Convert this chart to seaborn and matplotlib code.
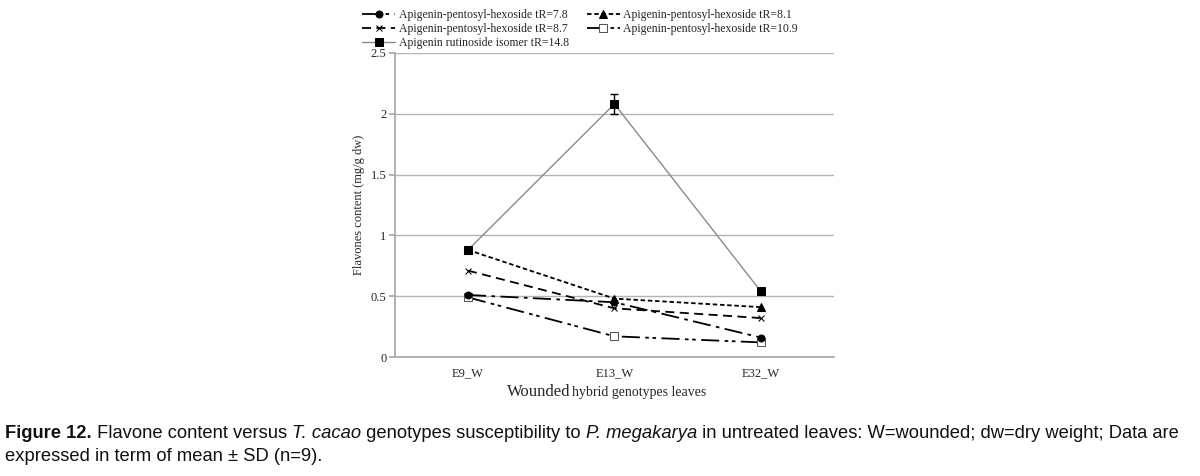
import matplotlib
matplotlib.use("Agg")
import matplotlib.pyplot as plt
import seaborn as sns

# data
genotypes = ["E9_W", "E13_W", "E32_W"]
series_names = [
    "Apigenin-pentosyl-hexoside tR=7.8",
    "Apigenin-pentosyl-hexoside tR=8.1",
    "Apigenin-pentosyl-hexoside tR=8.7",
    "Apigenin-pentosyl-hexoside tR=10.9",
    "Apigenin rutinoside isomer tR=14.8",
]
tr78 = [0.51, 0.45, 0.16]
tr81 = [0.88, 0.48, 0.41]
tr87 = [0.71, 0.40, 0.32]
tr109 = [0.49, 0.17, 0.12]
tr148 = [0.88, 2.08, 0.54]
tr148_sd = [0.0, 0.08, 0.0]

sns.set_theme(style="white")
serif = ["Liberation Serif", "DejaVu Serif"]
plt.rcParams["font.family"] = serif

fig = plt.figure(figsize=(12, 4.76), dpi=100)
ax = fig.add_axes([0.329, 0.25, 0.366, 0.639])

styles = [
    dict(marker="o", ms=5, color="black", mfc="black", mec="black",
         linestyle=(0, (10, 3, 2, 3)), lw=1.3, zorder=3),
    dict(marker="^", ms=6, color="black", mfc="black", mec="black",
         linestyle=(0, (2.5, 1.5)), lw=1.3, zorder=3),
    dict(marker="x", ms=5, color="black", mfc="black", mec="black",
         linestyle=(0, (5, 3)), lw=1.3, zorder=3),
    dict(marker="s", ms=6, color="black", mfc="white", mec="#555555",
         linestyle=(0, (10, 3, 2, 2, 2, 3)), lw=1.3, zorder=2),
    dict(marker="s", ms=5.5, color="#8a8a8a", mfc="black", mec="black",
         linestyle="-", lw=1.0, zorder=4),
]
values = [tr78, tr81, tr87, tr109, tr148]

handles = []
for name, vals, st in zip(series_names, values, styles):
    sns.lineplot(x=genotypes, y=vals, ax=ax, label=name, sort=False, **st)
    handles.append(ax.get_lines()[-1])

ax.errorbar(genotypes, tr148, yerr=tr148_sd, fmt="none", ecolor="black",
            elinewidth=1, capsize=3, zorder=4)

ax.set_xlim(-0.5, 2.5)
ax.set_ylim(0, 2.5)
ax.set_yticks([0, 0.5, 1, 1.5, 2, 2.5])
ax.set_yticklabels(["0", "0.5", "1", "1.5", "2", "2.5"])
ax.yaxis.grid(True, color="#b4b4b4", lw=1)
ax.set_axisbelow(True)
for s in ["top", "right"]:
    ax.spines[s].set_visible(False)
ax.spines["left"].set_color("#a8a8a8")
ax.spines["bottom"].set_color("#a8a8a8")
ax.tick_params(axis="y", left=True, length=4, color="#a8a8a8", labelsize=9, pad=2)
ax.tick_params(axis="x", bottom=False, labelsize=9, pad=1)
ax.set_ylabel("Flavones content (mg/g dw)", fontsize=9, labelpad=4)
ax.set_xlabel("")

ax.get_legend().remove()
order = [0, 2, 4, 1, 3]
fig.legend([handles[i] for i in order], [series_names[i] for i in order],
           loc="upper left", bbox_to_anchor=(0.298, 0.99), ncol=2,
           frameon=False, fontsize=8.5, handlelength=2.8, handletextpad=0.3,
           columnspacing=1.5, labelspacing=0.15, borderaxespad=0)

fig.text(0.475, 0.168, "Wounded", ha="right", va="baseline", fontsize=12)
fig.text(0.477, 0.168, "hybrid genotypes leaves", ha="left", va="baseline", fontsize=10)

# caption with mixed styles, placed piece by piece
cap_font = ["Liberation Sans Narrow", "Liberation Sans", "DejaVu Sans"]
line1 = [("Figure 12.", "bold", "normal"),
         (" Flavone content versus ", "normal", "normal"),
         ("T. cacao", "normal", "italic"),
         (" genotypes susceptibility to ", "normal", "normal"),
         ("P. megakarya", "normal", "italic"),
         (" in untreated leaves: W=wounded; dw=dry weight; Data are", "normal", "normal")]
line2 = [("expressed in term of mean \u00b1 SD (n=9).", "normal", "normal")]

fig.canvas.draw()
renderer = fig.canvas.get_renderer()
for pieces, ypix in [(line1, 438), (line2, 461)]:
    xpix = 5
    for txt, w, st in pieces:
        t = fig.text(xpix / 1200, 1 - ypix / 476, txt, ha="left", va="baseline",
                     fontsize=13.2, family=cap_font, weight=w, style=st,
                     color="#111111")
        bb = t.get_window_extent(renderer)
        xpix += bb.width

fig.savefig("out.png", dpi=100)
